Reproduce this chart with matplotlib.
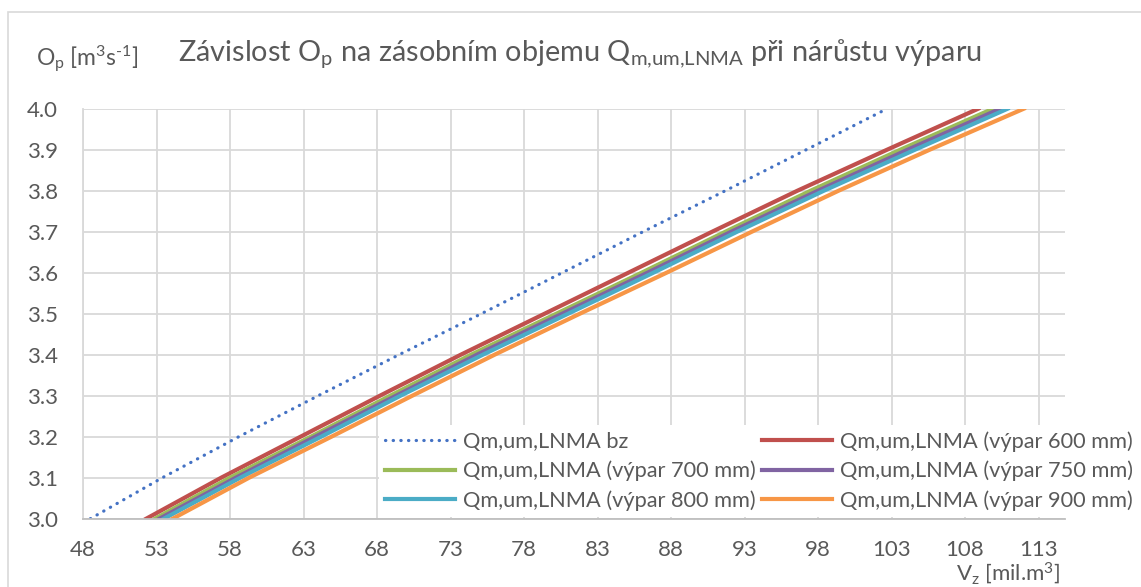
import matplotlib
matplotlib.use('Agg')
import matplotlib.pyplot as plt
from matplotlib.patches import Rectangle

plt.rcParams['font.family'] = ['Lato', 'DejaVu Sans']
plt.rcParams['mathtext.fontset'] = 'custom'
plt.rcParams['mathtext.rm'] = 'Lato'
plt.rcParams['mathtext.it'] = 'Lato'

# outflow O_p [m3/s] and storage volume V_z [mil. m3] for each scenario
op = [3.0, 3.1, 3.2, 3.3, 3.4, 3.5, 3.6, 3.7, 3.8, 3.9, 4.0]
v_bz = [48.5, 53.4, 58.6, 64.0, 69.5, 75.1, 80.6, 86.1, 91.7, 97.2, 102.7]
v_600 = [52.3, 57.4, 62.8, 68.2, 73.7, 79.4, 85.1, 90.8, 96.6, 102.7, 108.9]
v_700 = [52.9, 58.0, 63.5, 68.9, 74.4, 80.2, 86.0, 91.7, 97.5, 103.6, 109.9]
v_750 = [53.2, 58.4, 63.8, 69.3, 74.8, 80.6, 86.4, 92.1, 98.0, 104.1, 110.4]
v_800 = [53.5, 58.7, 64.2, 69.6, 75.2, 81.0, 86.8, 92.5, 98.4, 104.6, 110.9]
v_900 = [54.1, 59.3, 64.9, 70.4, 76.0, 81.8, 87.7, 93.5, 99.4, 105.6, 112.0]

x_ticks = list(range(48, 114, 5))
y_ticks = [3.0, 3.1, 3.2, 3.3, 3.4, 3.5, 3.6, 3.7, 3.8, 3.9, 4.0]

txt = '#595959'
grid = '#D9D9D9'

fig = plt.figure(figsize=(11.41, 5.87), dpi=100)
ax = fig.add_axes([83 / 1141, 1 - 518.7 / 587, (1065 - 83) / 1141, 410 / 587])

# chart area border
fig.patches.append(Rectangle((8 / 1141, -0.1), 1.2, 1.1 - 12 / 587, transform=fig.transFigure,
                             fill=False, edgecolor=grid, lw=1.2, zorder=0))

lw = 3.0
h_bz, = ax.plot(v_bz, op, color='#4472C4', lw=2.3, ls=(0, (0.1, 2.3)), dash_capstyle='round',
                label='Qm,um,LNMA bz')
h600, = ax.plot(v_600, op, color='#C0504D', lw=lw, label='Qm,um,LNMA (výpar 600 mm)')
h700, = ax.plot(v_700, op, color='#9BBB59', lw=lw, label='Qm,um,LNMA (výpar 700 mm)')
h750, = ax.plot(v_750, op, color='#8064A2', lw=lw, label='Qm,um,LNMA (výpar 750 mm)')
h800, = ax.plot(v_800, op, color='#4BACC6', lw=lw, label='Qm,um,LNMA (výpar 800 mm)')
h900, = ax.plot(v_900, op, color='#F79646', lw=lw, label='Qm,um,LNMA (výpar 900 mm)')

ax.set_xlim(48, 114.8)
ax.set_ylim(3.0, 4.0)
ax.set_xticks(x_ticks)
ax.set_yticks(y_ticks)
ax.set_yticklabels([f'{t:.1f}' for t in y_ticks])
ax.grid(True, color=grid, lw=1.3)
ax.set_axisbelow(True)
ax.tick_params(length=0, labelsize=16, labelcolor=txt)
ax.tick_params(axis='y', pad=18)
ax.tick_params(axis='x', pad=15)
for s in ['top', 'right']:
    ax.spines[s].set_visible(False)
ax.spines['bottom'].set_color('#BFBFBF')
ax.spines['left'].set_color(grid)
ax.spines['bottom'].set_linewidth(1.3)
ax.spines['left'].set_linewidth(1.3)

leg = ax.legend(handles=[h_bz, h700, h800, h600, h750, h900], ncol=2,
                loc='upper left', bbox_to_anchor=(368 / 1141, 1 - 414 / 587),
                bbox_transform=fig.transFigure, fontsize=15.7, frameon=True,
                facecolor='white', edgecolor='none', framealpha=1, fancybox=False,
                handlelength=3.2, handletextpad=0.35, columnspacing=0.3,
                labelspacing=0.4, borderpad=0.3)
for t in leg.get_texts():
    t.set_color(txt)

fig.text(178 / 1141, 1 - 61 / 587,
         r'Závislost O$_\mathrm{p}$ na zásobním objemu Q$_\mathrm{m{,}um{,}LNMA}$ při nárůstu výparu',
         fontsize=20.8, color=txt, va='baseline', ha='left')
fig.text(36 / 1141, 1 - 66 / 587, r'O$_\mathrm{p}$ [m$^\mathrm{3}$s$^\text{-1}$]',
         fontsize=16.5, color=txt, va='baseline', ha='left')
fig.text(1060 / 1141, 1 - 580 / 587, r'V$_\mathrm{z}$ [mil.m$^\mathrm{3}$]',
         fontsize=16, color=txt, va='baseline', ha='right')

fig.savefig('out.png', dpi=100)
